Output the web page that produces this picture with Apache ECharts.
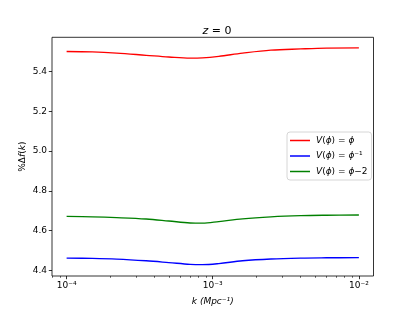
<!DOCTYPE html>
<html><head><meta charset="utf-8">
<script src="https://cdn.jsdelivr.net/npm/echarts@6/dist/echarts.min.js"></script>
<style>html,body{margin:0;padding:0;background:#fff}#c{width:415px;height:311px}</style>
</head><body><div id="c"></div>
<script>
// wavenumbers k (Mpc^-1)
var kValues = [1e-4, 1.5e-4, 2.2e-4, 3.5e-4, 5e-4, 7e-4, 8.5e-4, 1.1e-3, 1.6e-3, 2.5e-3, 4e-3, 6e-3, 1e-2];
// %Δf(k) for each potential
var seriesPhi    = [5.500, 5.498, 5.492, 5.481, 5.4725, 5.4665, 5.468, 5.476, 5.492, 5.507, 5.513, 5.517, 5.518];
var seriesPhiInv = [4.4615, 4.460, 4.4565, 4.448, 4.439, 4.430, 4.4285, 4.434, 4.448, 4.457, 4.4615, 4.463, 4.464];
var seriesPhiM2  = [4.6715, 4.669, 4.665, 4.658, 4.648, 4.638, 4.637, 4.645, 4.659, 4.669, 4.675, 4.677, 4.678];
var seriesNames = ['{i|V}({i|ϕ}) = {i|ϕ}', '{i|V}({i|ϕ}) = {i|ϕ}⁻¹', '{i|V}({i|ϕ}) = {i|ϕ}−2'];
var yTicks = [4.4, 4.6, 4.8, 5.0, 5.2, 5.4];
var xMajorExp = [-4, -3, -2];
var xLabels = ['10⁻⁴', '10⁻³', '10⁻²'];

var FONT = 'DejaVu Sans';
function pts(vals) { return kValues.map(function (k, i) { return [Math.log10(k), vals[i]]; }); }
var minor = [];
for (var e = -5; e <= -3; e++) for (var m = 2; m <= 9; m++) {
  var v = Math.log10(m * Math.pow(10, e));
  if (v > -4.1 && v < -1.9) minor.push(v);
}
var chart = echarts.init(document.getElementById('c'), null, {renderer: 'canvas'});
var xmin = -4.1, xmax = -1.9, ymin = 4.3715, ymax = 5.5715;
function mk(name, data, color) {
  return {name: name, type: 'line', data: data, smooth: 0.35, showSymbol: false, symbol: 'none',
    lineStyle: {color: color, width: 1.35}, itemStyle: {color: color}, animation: false};
}
chart.setOption({
  animation: false,
  title: {text: '{i|z} = 0', left: 212, top: 21, textAlign: 'center',
    textStyle: {fontFamily: FONT, fontSize: 11, fontWeight: 'normal', color: '#000',
      rich: {i: {fontFamily: FONT, fontSize: 11, fontStyle: 'italic', color: '#000'}}}},
  grid: {left: 52, top: 37.3, width: 321.5, height: 239.5, show: true, borderColor: '#000', borderWidth: 0.8, backgroundColor: 'transparent'},
  legend: {
    orient: 'vertical', left: 287, top: 132, padding: [3, 4, 3, 3], itemGap: 4.5,
    itemWidth: 20, itemHeight: 1.5, icon: 'rect',
    backgroundColor: '#fff', borderColor: '#ccc', borderWidth: 0.8, borderRadius: 3,
    textStyle: {fontFamily: FONT, fontSize: 9, color: '#000', lineHeight: 11, padding: [0,0,0,1],
      rich: {i: {fontFamily: FONT, fontSize: 9, fontStyle: 'italic', color: '#000'}}},
    data: seriesNames
  },
  xAxis: [{
    type: 'value', min: xmin, max: xmax, position: 'bottom',
    splitLine: {show: false}, axisLine: {show: false},
    axisTick: {show: true, length: 3.2, inside: false, customValues: xMajorExp, lineStyle: {color: '#000', width: 0.8}},
    axisLabel: {show: true, customValues: xMajorExp, margin: 5, fontFamily: FONT, fontSize: 9, color: '#000',
      formatter: function (v) { var i = xMajorExp.indexOf(Math.round(v)); return i >= 0 ? xLabels[i] : ''; }},
    name: 'k (Mpc⁻¹)', nameLocation: 'middle', nameGap: 21, nameMoveOverlap: false,
    nameTextStyle: {fontFamily: FONT, fontSize: 9, fontStyle: 'italic', color: '#000'}
  }, {
    type: 'value', min: xmin, max: xmax, position: 'bottom',
    splitLine: {show: false}, axisLine: {show: false}, axisLabel: {show: false},
    axisTick: {show: true, length: 1.8, customValues: minor, lineStyle: {color: '#000', width: 0.6}}
  }],
  yAxis: {
    type: 'value', min: ymin, max: ymax,
    splitLine: {show: false}, axisLine: {show: false},
    axisTick: {show: true, length: 3.2, customValues: yTicks, lineStyle: {color: '#000', width: 0.8}},
    axisLabel: {customValues: yTicks, margin: 5, fontFamily: FONT, fontSize: 9, color: '#000',
      formatter: function (v) { return v.toFixed(1); }},
    name: '%Δ{i|f}({i|k})', nameLocation: 'middle', nameGap: 25, nameRotate: 90, nameMoveOverlap: false,
    nameTextStyle: {fontFamily: FONT, fontSize: 9, color: '#000',
      rich: {i: {fontFamily: FONT, fontSize: 9, fontStyle: 'italic', color: '#000'}}}
  },
  series: [
    mk(seriesNames[0], pts(seriesPhi), '#ff0000'),
    mk(seriesNames[1], pts(seriesPhiInv), '#0000ff'),
    mk(seriesNames[2], pts(seriesPhiM2), '#008000')
  ]
});
</script></body></html>
